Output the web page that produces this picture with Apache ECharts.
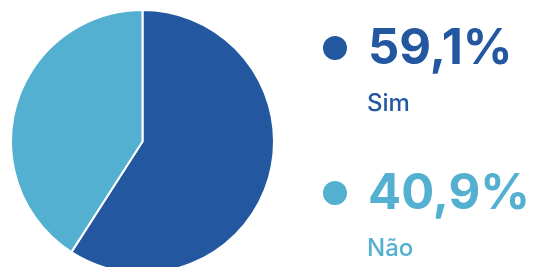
<!DOCTYPE html>
<html><head><meta charset="utf-8">
<script src="https://cdn.jsdelivr.net/npm/echarts@6/dist/echarts.min.js"></script>
<style>html,body{margin:0;padding:0;background:#fff}#c{width:533px;height:267px}</style>
</head><body><div id="c"></div>
<script>
var categories = ['Sim', 'Não'];
var values = [59.1, 40.9];
var valueLabels = ['59,1%', '40,9%'];
var colors = ['#2358A1', '#53B0D0'];

var FONT = 'Inter, "Noto Sans", sans-serif';
var rowY = [48, 193];
var graphics = [];
categories.forEach(function (c, i) {
  graphics.push({ type: 'circle', shape: { cx: 335, cy: rowY[i], r: 12 }, style: { fill: colors[i] } });
  graphics.push({ type: 'text', x: 368, y: rowY[i] + 1, style: { text: valueLabels[i], fill: colors[i], font: '700 49px ' + FONT, textVerticalAlign: 'middle', textAlign: 'left' } });
  graphics.push({ type: 'text', x: 367, y: rowY[i] + 56, style: { text: c, fill: colors[i], font: '500 24px ' + FONT, textVerticalAlign: 'middle', textAlign: 'left' } });
});

var chart = echarts.init(document.getElementById('c'), null, { renderer: 'canvas' });
chart.setOption({
  animation: false,
  color: colors,
  graphic: graphics,
  series: [{
    type: 'pie',
    center: [142.5, 141.5],
    radius: [0, 131.5],
    startAngle: 90,
    clockwise: true,
    label: { show: false },
    labelLine: { show: false },
    itemStyle: { borderColor: '#fff', borderWidth: 2 },
    data: categories.map(function (c, i) { return { name: c, value: values[i] }; })
  }]
});
</script></body></html>
